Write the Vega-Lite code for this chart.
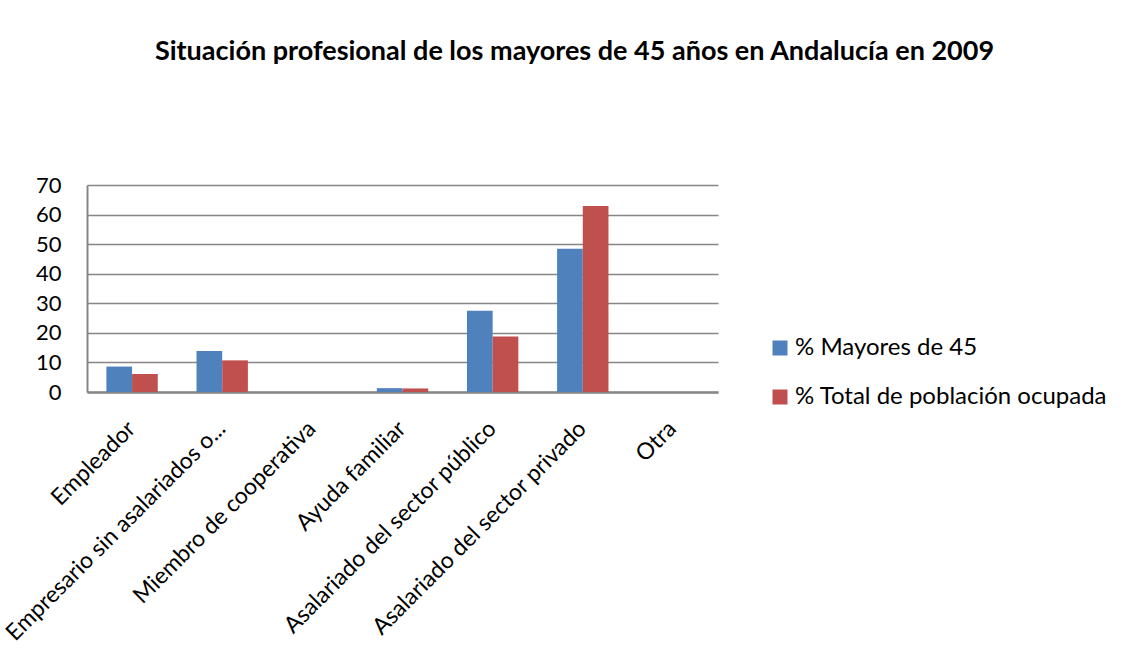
{
  "$schema": "https://vega.github.io/schema/vega-lite/v6.json",
  "width": 631,
  "height": 207,
  "autosize": "none",
  "padding": {"left": 87, "top": 185, "right": 412, "bottom": 274},
  "background": "white",
  "title": {
    "text": "Situación profesional de los mayores de 45 años en Andalucía en 2009",
    "font": "Lato",
    "fontSize": 27,
    "fontWeight": "bold",
    "color": "#000000",
    "anchor": "middle",
    "frame": "group",
    "dx": 172,
    "offset": 87,
    "baseline": "alphabetic"
  },
  "data": {
    "values": [
      {"cat": "Empleador", "serie": "% Mayores de 45", "value": 8.6},
      {"cat": "Empleador", "serie": "% Total de población ocupada", "value": 6.1},
      {"cat": "Empresario sin asalariados o...", "serie": "% Mayores de 45", "value": 13.9},
      {"cat": "Empresario sin asalariados o...", "serie": "% Total de población ocupada", "value": 10.7},
      {"cat": "Miembro de cooperativa", "serie": "% Mayores de 45", "value": 0},
      {"cat": "Miembro de cooperativa", "serie": "% Total de población ocupada", "value": 0},
      {"cat": "Ayuda familiar", "serie": "% Mayores de 45", "value": 1.3},
      {"cat": "Ayuda familiar", "serie": "% Total de población ocupada", "value": 1.2},
      {"cat": "Asalariado del sector público", "serie": "% Mayores de 45", "value": 27.5},
      {"cat": "Asalariado del sector público", "serie": "% Total de población ocupada", "value": 18.8},
      {"cat": "Asalariado del sector privado", "serie": "% Mayores de 45", "value": 48.4},
      {"cat": "Asalariado del sector privado", "serie": "% Total de población ocupada", "value": 62.9},
      {"cat": "Otra", "serie": "% Mayores de 45", "value": 0},
      {"cat": "Otra", "serie": "% Total de población ocupada", "value": 0}
    ]
  },
  "mark": {"type": "bar"},
  "encoding": {
    "x": {
      "field": "cat",
      "type": "nominal",
      "sort": null,
      "scale": {"paddingInner": 0.43, "paddingOuter": 0.215},
      "axis": {
        "title": null,
        "labelAngle": -45,
        "labelAlign": "right",
        "labelBaseline": "top",
        "labelFont": "Lato",
        "labelFontSize": 23,
        "labelColor": "#000000",
        "labelPadding": 25,
        "labelOffset": -8,
        "labelLimit": 400,
        "labelOverlap": false,
        "ticks": false,
        "domainColor": "#868686",
        "domainWidth": 2.5,
        "grid": false
      }
    },
    "xOffset": {"field": "serie", "type": "nominal", "scale": {"paddingInner": 0, "paddingOuter": 0}},
    "y": {
      "field": "value",
      "type": "quantitative",
      "scale": {"domain": [0, 70], "nice": false},
      "axis": {
        "title": null,
        "values": [0, 10, 20, 30, 40, 50, 60, 70],
        "labelFont": "Lato",
        "labelFontSize": 22,
        "labelColor": "#000000",
        "labelPadding": 26,
        "ticks": false,
        "domainColor": "#868686",
        "domainWidth": 2,
        "gridColor": "#868686",
        "gridWidth": 1.6
      }
    },
    "color": {
      "field": "serie",
      "type": "nominal",
      "scale": {"domain": ["% Mayores de 45", "% Total de población ocupada"], "range": ["#4F81BD", "#C0504D"]},
      "legend": {
        "title": null,
        "orient": "none",
        "legendX": 681,
        "legendY": 151,
        "direction": "vertical",
        "symbolType": "square",
        "symbolSize": 225,
        "symbolStrokeWidth": 0,
        "labelFont": "Lato",
        "labelFontSize": 24,
        "labelColor": "#000000",
        "labelOffset": 3,
        "labelLimit": 500,
        "rowPadding": 25
      }
    }
  },
  "config": {
    "view": {"stroke": null}
  }
}
